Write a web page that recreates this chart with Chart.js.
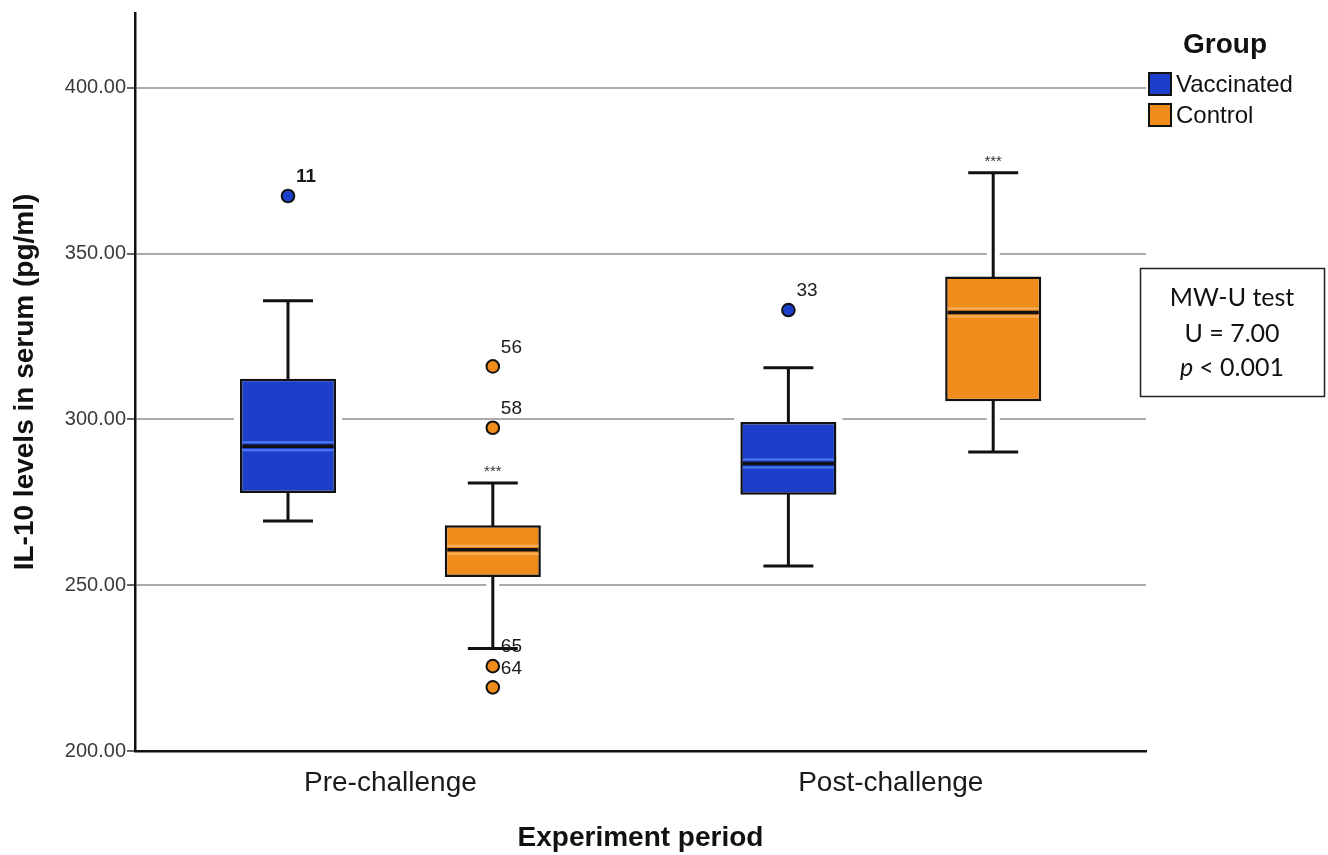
<!DOCTYPE html>
<html>
<head>
<meta charset="utf-8">
<script src="https://cdn.jsdelivr.net/npm/chart.js@4.4.0/dist/chart.umd.min.js"></script>
<style>
html,body{margin:0;padding:0;background:#ffffff;}
#wrap{width:1328px;height:855px;position:relative;}
</style>
</head>
<body>
<div id="wrap"><canvas id="c" width="1328" height="855"></canvas></div>
<script>
// ---------- data ----------
const categories = ['Pre-challenge', 'Post-challenge'];
const groupNames = ['Vaccinated', 'Control'];

const vaccMin    = [269.4, 255.8];
const vaccQ1     = [277.8, 277.3];
const vaccMedian = [291.9, 286.7];
const vaccQ3     = [312.3, 299.2];
const vaccMax    = [335.8, 315.6];
const vaccOutliers   = [[367.4], [333.0]];
const vaccOutlierIds = [['11'], ['33']];

const ctrlMin    = [230.9, 290.2];
const ctrlQ1     = [252.5, 305.5];
const ctrlMedian = [260.7, 332.3];
const ctrlQ3     = [268.1, 343.1];
const ctrlMax    = [280.8, 374.4];
const ctrlOutliers   = [[316.0, 297.5, 225.6, 219.2], []];
const ctrlOutlierIds = [['56', '58', '65', '64'], []];
const ctrlSignif = ['***', '***'];

const yTicks = [200, 250, 300, 350, 400];
const yMin = 200;
const yMax = 422.6;
const xMin = -0.5104;
const xMax = 1.51;

const testLines = ['MW-U test', 'U = 7.00', '< 0.001'];

// ---------- styling ----------
const groupColors = ['#1c3fc9', '#ef8c1a'];
const groupLight  = ['#4f7cf2', '#f7b262'];
const FONT = "'Liberation Sans', Arial, sans-serif";

const stats = [
  {min: vaccMin, q1: vaccQ1, med: vaccMedian, q3: vaccQ3, max: vaccMax, out: vaccOutliers, ids: vaccOutlierIds, sig: null},
  {min: ctrlMin, q1: ctrlQ1, med: ctrlMedian, q3: ctrlQ3, max: ctrlMax, out: ctrlOutliers, ids: ctrlOutlierIds, sig: ctrlSignif}
];

function forEachBox(chart, fn) {
  const y = chart.scales.y;
  chart.data.datasets.forEach((ds, di) => {
    const meta = chart.getDatasetMeta(di);
    meta.data.forEach((bar, i) => {
      const s = stats[di];
      fn({
        di, i, x: bar.x, w: bar.width,
        pMin: y.getPixelForValue(s.min[i]),
        pQ1: y.getPixelForValue(s.q1[i]),
        pMed: y.getPixelForValue(s.med[i]),
        pQ3: y.getPixelForValue(s.q3[i]),
        pMax: y.getPixelForValue(s.max[i]),
        s, y
      });
    });
  });
}

const boxPlugin = {
  id: 'boxplot',
  beforeDatasetsDraw(chart) {
    const ctx = chart.ctx;
    ctx.save();
    ctx.strokeStyle = '#ffffff';
    ctx.fillStyle = '#ffffff';
    forEachBox(chart, b => {
      const halo = 6;
      ctx.fillRect(b.x - b.w / 2 - halo, b.pQ3 - halo, b.w + 2 * halo, b.pQ1 - b.pQ3 + 2 * halo);
      ctx.lineWidth = 13;
      ctx.beginPath();
      ctx.moveTo(b.x, b.pQ3); ctx.lineTo(b.x, b.pMax);
      ctx.moveTo(b.x, b.pQ1); ctx.lineTo(b.x, b.pMin);
      const cw = b.w * 0.52;
      ctx.moveTo(b.x - cw / 2, b.pMax); ctx.lineTo(b.x + cw / 2, b.pMax);
      ctx.moveTo(b.x - cw / 2, b.pMin); ctx.lineTo(b.x + cw / 2, b.pMin);
      ctx.stroke();
    });
    ctx.restore();
  },
  afterDatasetsDraw(chart) {
    const ctx = chart.ctx;
    ctx.save();
    forEachBox(chart, b => {
      const cw = b.w * 0.52;
      // whiskers
      ctx.strokeStyle = '#111111';
      ctx.lineWidth = 3;
      ctx.lineCap = 'butt';
      ctx.beginPath();
      ctx.moveTo(b.x, b.pQ3 + 1.5); ctx.lineTo(b.x, b.pMax);
      ctx.moveTo(b.x, b.pQ1 - 1.5); ctx.lineTo(b.x, b.pMin);
      ctx.moveTo(b.x - cw / 2, b.pMax); ctx.lineTo(b.x + cw / 2, b.pMax);
      ctx.moveTo(b.x - cw / 2, b.pMin); ctx.lineTo(b.x + cw / 2, b.pMin);
      ctx.stroke();
      // median highlight + line
      const x0 = b.x - b.w / 2 + 2.5, x1 = b.x + b.w / 2 - 2.5;
      ctx.strokeStyle = groupLight[b.di];
      ctx.lineWidth = 2;
      ctx.beginPath();
      ctx.moveTo(x0, b.pMed - 4); ctx.lineTo(x1, b.pMed - 4);
      ctx.moveTo(x0, b.pMed + 4); ctx.lineTo(x1, b.pMed + 4);
      ctx.stroke();
      ctx.strokeStyle = '#111111';
      ctx.lineWidth = 3.5;
      ctx.beginPath();
      ctx.moveTo(x0, b.pMed); ctx.lineTo(x1, b.pMed);
      ctx.stroke();
      // outliers
      const outs = b.s.out[b.i];
      outs.forEach((v, k) => {
        const py = b.y.getPixelForValue(v);
        ctx.beginPath();
        ctx.arc(b.x, py, 6.3, 0, Math.PI * 2);
        ctx.fillStyle = groupColors[b.di];
        ctx.fill();
        ctx.lineWidth = 2;
        ctx.strokeStyle = '#111111';
        ctx.stroke();
        const id = b.s.ids[b.i][k];
        ctx.fillStyle = '#1a1a1a';
        ctx.font = (id === '11' ? 'bold ' : '') + '19px ' + FONT;
        ctx.textAlign = 'left';
        ctx.textBaseline = 'middle';
        ctx.fillText(id, b.x + 8, py - 19);
      });
      // significance
      if (b.s.sig) {
        ctx.fillStyle = '#333333';
        ctx.font = '15px ' + FONT;
        ctx.textAlign = 'center';
        ctx.textBaseline = 'middle';
        ctx.fillText(b.s.sig[b.i], b.x, b.pMax - 11);
      }
    });
    ctx.restore();
  },
  afterDraw(chart) {
    const ctx = chart.ctx;
    ctx.save();
    // legend
    ctx.fillStyle = '#111111';
    ctx.font = 'bold 28px ' + FONT;
    ctx.textAlign = 'center';
    ctx.textBaseline = 'middle';
    ctx.fillText('Group', 1225, 45);
    chart.data.datasets.forEach((ds, di) => {
      const top = 73 + di * 31;
      ctx.fillStyle = ds.backgroundColor;
      ctx.fillRect(1149, top, 22, 22);
      ctx.lineWidth = 2;
      ctx.strokeStyle = '#111111';
      ctx.strokeRect(1149, top, 22, 22);
      ctx.fillStyle = '#111111';
      ctx.font = '24px ' + FONT;
      ctx.textAlign = 'left';
      ctx.textBaseline = 'middle';
      ctx.fillText(ds.label, 1176, top + 12);
    });
    // test box
    ctx.lineWidth = 1.5;
    ctx.strokeStyle = '#222222';
    ctx.strokeRect(1140.5, 268.5, 184, 128);
    ctx.fillStyle = '#111111';
    const tf = "25px Lato, 'Open Sans', sans-serif";
    ctx.font = tf;
    ctx.textAlign = 'center';
    ctx.textBaseline = 'middle';
    ctx.fillText(testLines[0], 1232, 298);
    ctx.fillText(testLines[1], 1232, 334);
    ctx.font = "italic " + tf;
    const pw = ctx.measureText('p ').width;
    ctx.font = tf;
    const rw = ctx.measureText(testLines[2]).width;
    const start = 1232 - (pw + rw) / 2;
    ctx.textAlign = 'left';
    ctx.font = "italic " + tf;
    ctx.fillText('p', start, 368);
    ctx.font = tf;
    ctx.fillText(testLines[2], start + pw, 368);
    ctx.restore();
  }
};

const chart = new Chart(document.getElementById('c'), {
  type: 'bar',
  data: {
    datasets: groupNames.map((name, di) => ({
      label: name,
      data: categories.map((c, i) => ({x: i, y: [stats[di].q1[i], stats[di].q3[i]]})),
      backgroundColor: groupColors[di],
      borderColor: '#111111',
      borderWidth: 2.5,
      borderSkipped: false,
      barPercentage: 0.469,
      categoryPercentage: 0.8186
    }))
  },
  options: {
    responsive: false,
    animation: false,
    devicePixelRatio: 1,
    layout: {padding: {top: 12, right: 182, left: 0, bottom: 0}},
    plugins: {legend: {display: false}, tooltip: {enabled: false}},
    scales: {
      x: {
        type: 'linear',
        min: xMin, max: xMax,
        offset: false,
        afterBuildTicks(s) { s.ticks = categories.map((c, i) => ({value: i})); },
        grid: {display: false, drawTicks: false},
        border: {display: true, color: '#111111', width: 2.5},
        ticks: {callback: v => categories[v], font: {family: FONT, size: 28}, color: '#1a1a1a', padding: 15, maxRotation: 0, autoSkip: false},
        title: {display: true, text: 'Experiment period', color: '#111111',
                font: {family: FONT, size: 28, weight: 'bold', lineHeight: 1.2},
                padding: {top: 0, bottom: 0}},
        afterFit(s) { s.height = 104; }
      },
      y: {
        min: yMin, max: yMax,
        afterBuildTicks(s) { s.ticks = yTicks.map(v => ({value: v})); },
        ticks: {callback: v => Number(v).toFixed(2), font: {family: FONT, size: 20}, color: '#3a3a3a', padding: 1},
        grid: {
          color: c => (c.tick && c.tick.value === yMin) ? 'rgba(0,0,0,0)' : '#ababab',
          lineWidth: 2, drawTicks: true, tickLength: 8, tickColor: '#666666'
        },
        border: {display: true, color: '#111111', width: 2.5},
        title: {display: true, text: 'IL-10 levels in serum (pg/ml)', color: '#111111',
                font: {family: FONT, size: 28, weight: 'bold', lineHeight: 1.2},
                padding: {top: 8, bottom: 0}},
        afterFit(s) { s.width = 135; }
      }
    }
  },
  plugins: [boxPlugin]
});
</script>
</body>
</html>
